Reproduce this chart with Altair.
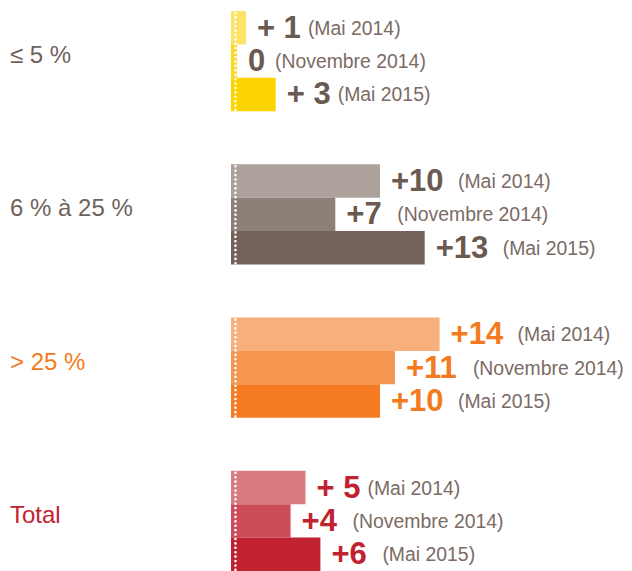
import altair as alt
import pandas as pd

groups = ["≤ 5 %", "6 % à 25 %", "> 25 %", "Total"]
periods = ["Mai 2014", "Novembre 2014", "Mai 2015"]
values = [[1, 0, 3], [10, 7, 13], [14, 11, 10], [5, 4, 6]]
labels = [["+ 1", "0", "+ 3"], ["+10", "+7", "+13"], ["+14", "+11", "+10"], ["+ 5", "+4", "+6"]]

bar_colors = [
    "#fde366", "#fad924", "#fdd300",
    "#aca19b", "#8d8079", "#74625a",
    "#f7b07b", "#f59650", "#f47b22",
    "#d97a81", "#cc4d58", "#c1222f",
]
group_text_colors = ["#6b5a52", "#6b5a52", "#f47a20", "#c1222f"]
group_label_colors = ["#6f625b", "#6f625b", "#f47a20", "#c1222f"]

rows = []
for gi, g in enumerate(groups):
    for pi, p in enumerate(periods):
        rows.append({"group": g, "gi": gi, "period": p, "pi": pi, "key": f"{gi}-{pi}",
                     "value": values[gi][pi], "label": labels[gi][pi]})
df = pd.DataFrame(rows)
keys = list(df["key"])
gdf = pd.DataFrame({"group": groups, "gi": list(range(len(groups)))})

PX = 14.9          # pixels per unit on x
W = 393
H = 560
XMAX = W / PX
GSTEP = 4.59       # group step, in bar-height units
YMAX = GSTEP * 3 + 3

xscale = alt.Scale(domain=[0, XMAX], nice=False, zero=False)
yscale = alt.Scale(domain=[0, YMAX], nice=False, zero=False, reverse=True)

base = alt.Chart(df).transform_calculate(
    x0="0",
    xpos="max(datum.value, 0.4)",
    ptext="'(' + datum.period + ')'",
    digits="length(replace(replace(datum.label, '+', ''), ' ', ''))",
    ytop=f"datum.gi * {GSTEP} + datum.pi",
).transform_calculate(
    ybot="datum.ytop + 1",
    ymid="datum.ytop + 0.5",
    xp=f"datum.xpos + (22 + 16 * datum.digits + (indexof(datum.label, '+') >= 0 ? 24 : 0)) / {PX}",
)

bars = base.mark_bar(strokeWidth=0).encode(
    x=alt.X("xpos:Q", scale=xscale, axis=None),
    x2="x0:Q",
    y=alt.Y("ytop:Q", scale=yscale, axis=None),
    y2="ybot:Q",
    color=alt.Color("key:N", scale=alt.Scale(domain=keys, range=bar_colors), legend=None),
)

gbase = alt.Chart(gdf).transform_calculate(
    gtop=f"datum.gi * {GSTEP}",
    gbot=f"datum.gi * {GSTEP} + 3",
    gmid=f"datum.gi * {GSTEP} + 1.5",
    gx="0.3",
)

dots = gbase.mark_rule(color="white", strokeWidth=2.6,
                       strokeDash=[0.01, 4.4], strokeCap="round", strokeDashOffset=-2).encode(
    x=alt.X("gx:Q", scale=xscale, axis=None),
    y=alt.Y("gtop:Q", scale=yscale, axis=None),
    y2="gbot:Q",
)

glabels = gbase.mark_text(align="left", baseline="middle", dy=-5,
                          fontSize=24, font="Liberation Sans").encode(
    x=alt.value(-221),
    y=alt.Y("gmid:Q", scale=yscale, axis=None),
    text="group:N",
    color=alt.Color("group:N", scale=alt.Scale(domain=groups, range=group_label_colors),
                    legend=None),
)

vals = base.mark_text(align="left", baseline="middle", dx=11, dy=1, fontSize=31,
                      fontWeight="bold", font="Liberation Sans").encode(
    x=alt.X("xpos:Q", scale=xscale, axis=None),
    y=alt.Y("ymid:Q", scale=yscale, axis=None),
    text="label:N",
    color=alt.Color("group:N", scale=alt.Scale(domain=groups, range=group_text_colors), legend=None),
)

per = base.mark_text(align="left", baseline="middle", dy=1, fontSize=19.4,
                     font="Liberation Sans", color="#7b6b64").encode(
    x=alt.X("xp:Q", scale=xscale, axis=None),
    y=alt.Y("ymid:Q", scale=yscale, axis=None),
    text="ptext:N",
)

chart = alt.layer(bars, dots, glabels, vals, per).resolve_scale(color="independent").properties(
    width=W, height=H,
    autosize=alt.AutoSizeParams(type="none"),
    padding={"left": 223, "top": 3, "right": 0, "bottom": 0},
).configure_view(stroke=None)

chart.save("out.html", embed_options={"renderer": "svg", "actions": False})
